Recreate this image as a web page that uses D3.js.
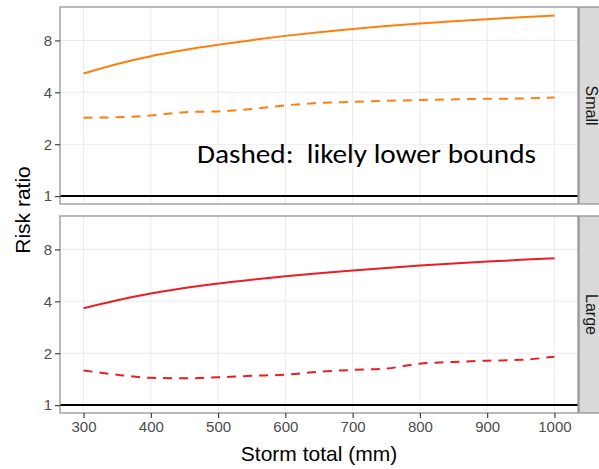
<!DOCTYPE html>
<html>
<head>
<meta charset="utf-8">
<script src="https://cdn.jsdelivr.net/npm/d3@7"></script>
<style>
  html, body { margin: 0; padding: 0; background: #fff; }
  svg { display: block; }
</style>
</head>
<body>
<svg id="chart" width="599" height="469"></svg>
<script>
// Storm totals (mm) at which risk ratios are evaluated
const storm = [300, 350, 400, 450, 500, 550, 600, 650, 700, 750, 800, 850, 900, 950, 1000];

// Facet names
const facets = ["Small", "Large"];

// Central estimates of risk ratio
const smallEstimate = [5.14, 5.84, 6.48, 7.03, 7.54, 8.03, 8.50, 8.93, 9.33, 9.70, 10.03, 10.34, 10.63, 10.90, 11.16];
const largeEstimate = [3.65, 4.06, 4.44, 4.78, 5.08, 5.34, 5.59, 5.82, 6.04, 6.25, 6.45, 6.63, 6.80, 6.96, 7.12];

// Likely lower bounds (dashed)
const smallLower = [2.85, 2.87, 2.93, 3.07, 3.10, 3.20, 3.36, 3.47, 3.52, 3.57, 3.61, 3.64, 3.67, 3.68, 3.73];
const largeLower = [1.59, 1.50, 1.44, 1.43, 1.45, 1.48, 1.50, 1.56, 1.60, 1.63, 1.74, 1.78, 1.81, 1.83, 1.91];

// Axis ticks
const xTicks = [300, 400, 500, 600, 700, 800, 900, 1000];
const yTicks = [1, 2, 4, 8];

const colors = { Small: "#ff7f0e", Large: "#ec1c24" };
const seriesByFacet = {
  Small: { estimate: smallEstimate, lower: smallLower },
  Large: { estimate: largeEstimate, lower: largeLower }
};

const svg = d3.select("#chart");
const left = 60, right = 578, stripW = 30;
const panels = [
  { name: facets[0], top: 7, bottom: 204 },
  { name: facets[1], top: 216, bottom: 413 }
];

const x = d3.scaleLinear().domain([265, 1035]).range([left, right]);

panels.forEach((p, i) => {
  const y = d3.scaleLog().base(2).domain([0.9, 12.5]).range([p.bottom, p.top]);
  const g = svg.append("g");

  // panel background
  g.append("rect")
    .attr("x", left).attr("y", p.top)
    .attr("width", right - left).attr("height", p.bottom - p.top)
    .attr("fill", "#fff");

  // grid
  g.append("g").selectAll("line.v").data(xTicks).join("line")
    .attr("x1", d => x(d)).attr("x2", d => x(d))
    .attr("y1", p.top).attr("y2", p.bottom)
    .attr("stroke", "#ebebeb").attr("stroke-width", 1.1);
  g.append("g").selectAll("line.h").data(yTicks).join("line")
    .attr("x1", left).attr("x2", right)
    .attr("y1", d => y(d)).attr("y2", d => y(d))
    .attr("stroke", "#ebebeb").attr("stroke-width", 1.1);

  // reference line at ratio 1
  g.append("line")
    .attr("x1", left).attr("x2", right)
    .attr("y1", y(1)).attr("y2", y(1))
    .attr("stroke", "#000").attr("stroke-width", 2);

  const line = d3.line()
    .x((d, k) => x(storm[k]))
    .y(d => y(d))
    .curve(d3.curveMonotoneX);

  const s = seriesByFacet[p.name];
  g.append("path").datum(s.estimate)
    .attr("d", line).attr("fill", "none")
    .attr("stroke", colors[p.name]).attr("stroke-width", 2);
  g.append("path").datum(s.lower)
    .attr("d", line).attr("fill", "none")
    .attr("stroke", colors[p.name]).attr("stroke-width", 2)
    .attr("stroke-dasharray", "9,7");

  // panel border
  g.append("rect")
    .attr("x", left).attr("y", p.top)
    .attr("width", right - left).attr("height", p.bottom - p.top)
    .attr("fill", "none").attr("stroke", "#8a8a8a").attr("stroke-width", 1.2);

  // strip
  g.append("rect")
    .attr("x", right + 1).attr("y", p.top)
    .attr("width", stripW).attr("height", p.bottom - p.top)
    .attr("fill", "#d9d9d9").attr("stroke", "#8a8a8a").attr("stroke-width", 1.2);
  g.append("text")
    .attr("transform", `translate(${right + 8},${(p.top + p.bottom) / 2}) rotate(90)`)
    .attr("text-anchor", "middle")
    .attr("font-family", "Liberation Sans, Arial, sans-serif")
    .attr("font-size", 16)
    .attr("fill", "#1a1a1a")
    .text(p.name);

  // y axis
  const yAxis = d3.axisLeft(y).tickValues(yTicks).tickFormat(d3.format("d")).tickSize(5).tickPadding(3);
  const ya = g.append("g").attr("transform", `translate(${left},0)`).call(yAxis);
  ya.select(".domain").remove();
  ya.selectAll(".tick line").attr("stroke", "#333").attr("stroke-width", 1.1);
  ya.selectAll(".tick text")
    .attr("font-family", "Liberation Sans, Arial, sans-serif")
    .attr("font-size", 15).attr("fill", "#4d4d4d");

  if (i === 1) {
    const xAxis = d3.axisBottom(x).tickValues(xTicks).tickFormat(d3.format("d")).tickSize(5).tickPadding(3);
    const xa = g.append("g").attr("transform", `translate(0,${p.bottom})`).call(xAxis);
    xa.select(".domain").remove();
    xa.selectAll(".tick line").attr("stroke", "#333").attr("stroke-width", 1.1);
    xa.selectAll(".tick text")
      .attr("font-family", "Liberation Sans, Arial, sans-serif")
      .attr("font-size", 15).attr("fill", "#4d4d4d");
  }
});

// axis titles
svg.append("text")
  .attr("x", (left + right) / 2).attr("y", 461)
  .attr("text-anchor", "middle")
  .attr("font-family", "Liberation Sans, Arial, sans-serif")
  .attr("font-size", 21).attr("fill", "#000")
  .text("Storm total (mm)");

svg.append("text")
  .attr("transform", `translate(30,${(7 + 413) / 2}) rotate(-90)`)
  .attr("text-anchor", "middle")
  .attr("font-family", "Liberation Sans, Arial, sans-serif")
  .attr("font-size", 21).attr("fill", "#000")
  .text("Risk ratio");

// annotation
svg.append("text")
  .attr("x", 197).attr("y", 163)
  .attr("font-family", "Carlito, Lato, 'Open Sans', sans-serif")
  .attr("font-size", 26).attr("fill", "#000")
  .attr("textLength", 339)
  .attr("lengthAdjust", "spacingAndGlyphs")
  .style("white-space", "pre")
  .text("Dashed:  likely lower bounds");
</script>
</body>
</html>
